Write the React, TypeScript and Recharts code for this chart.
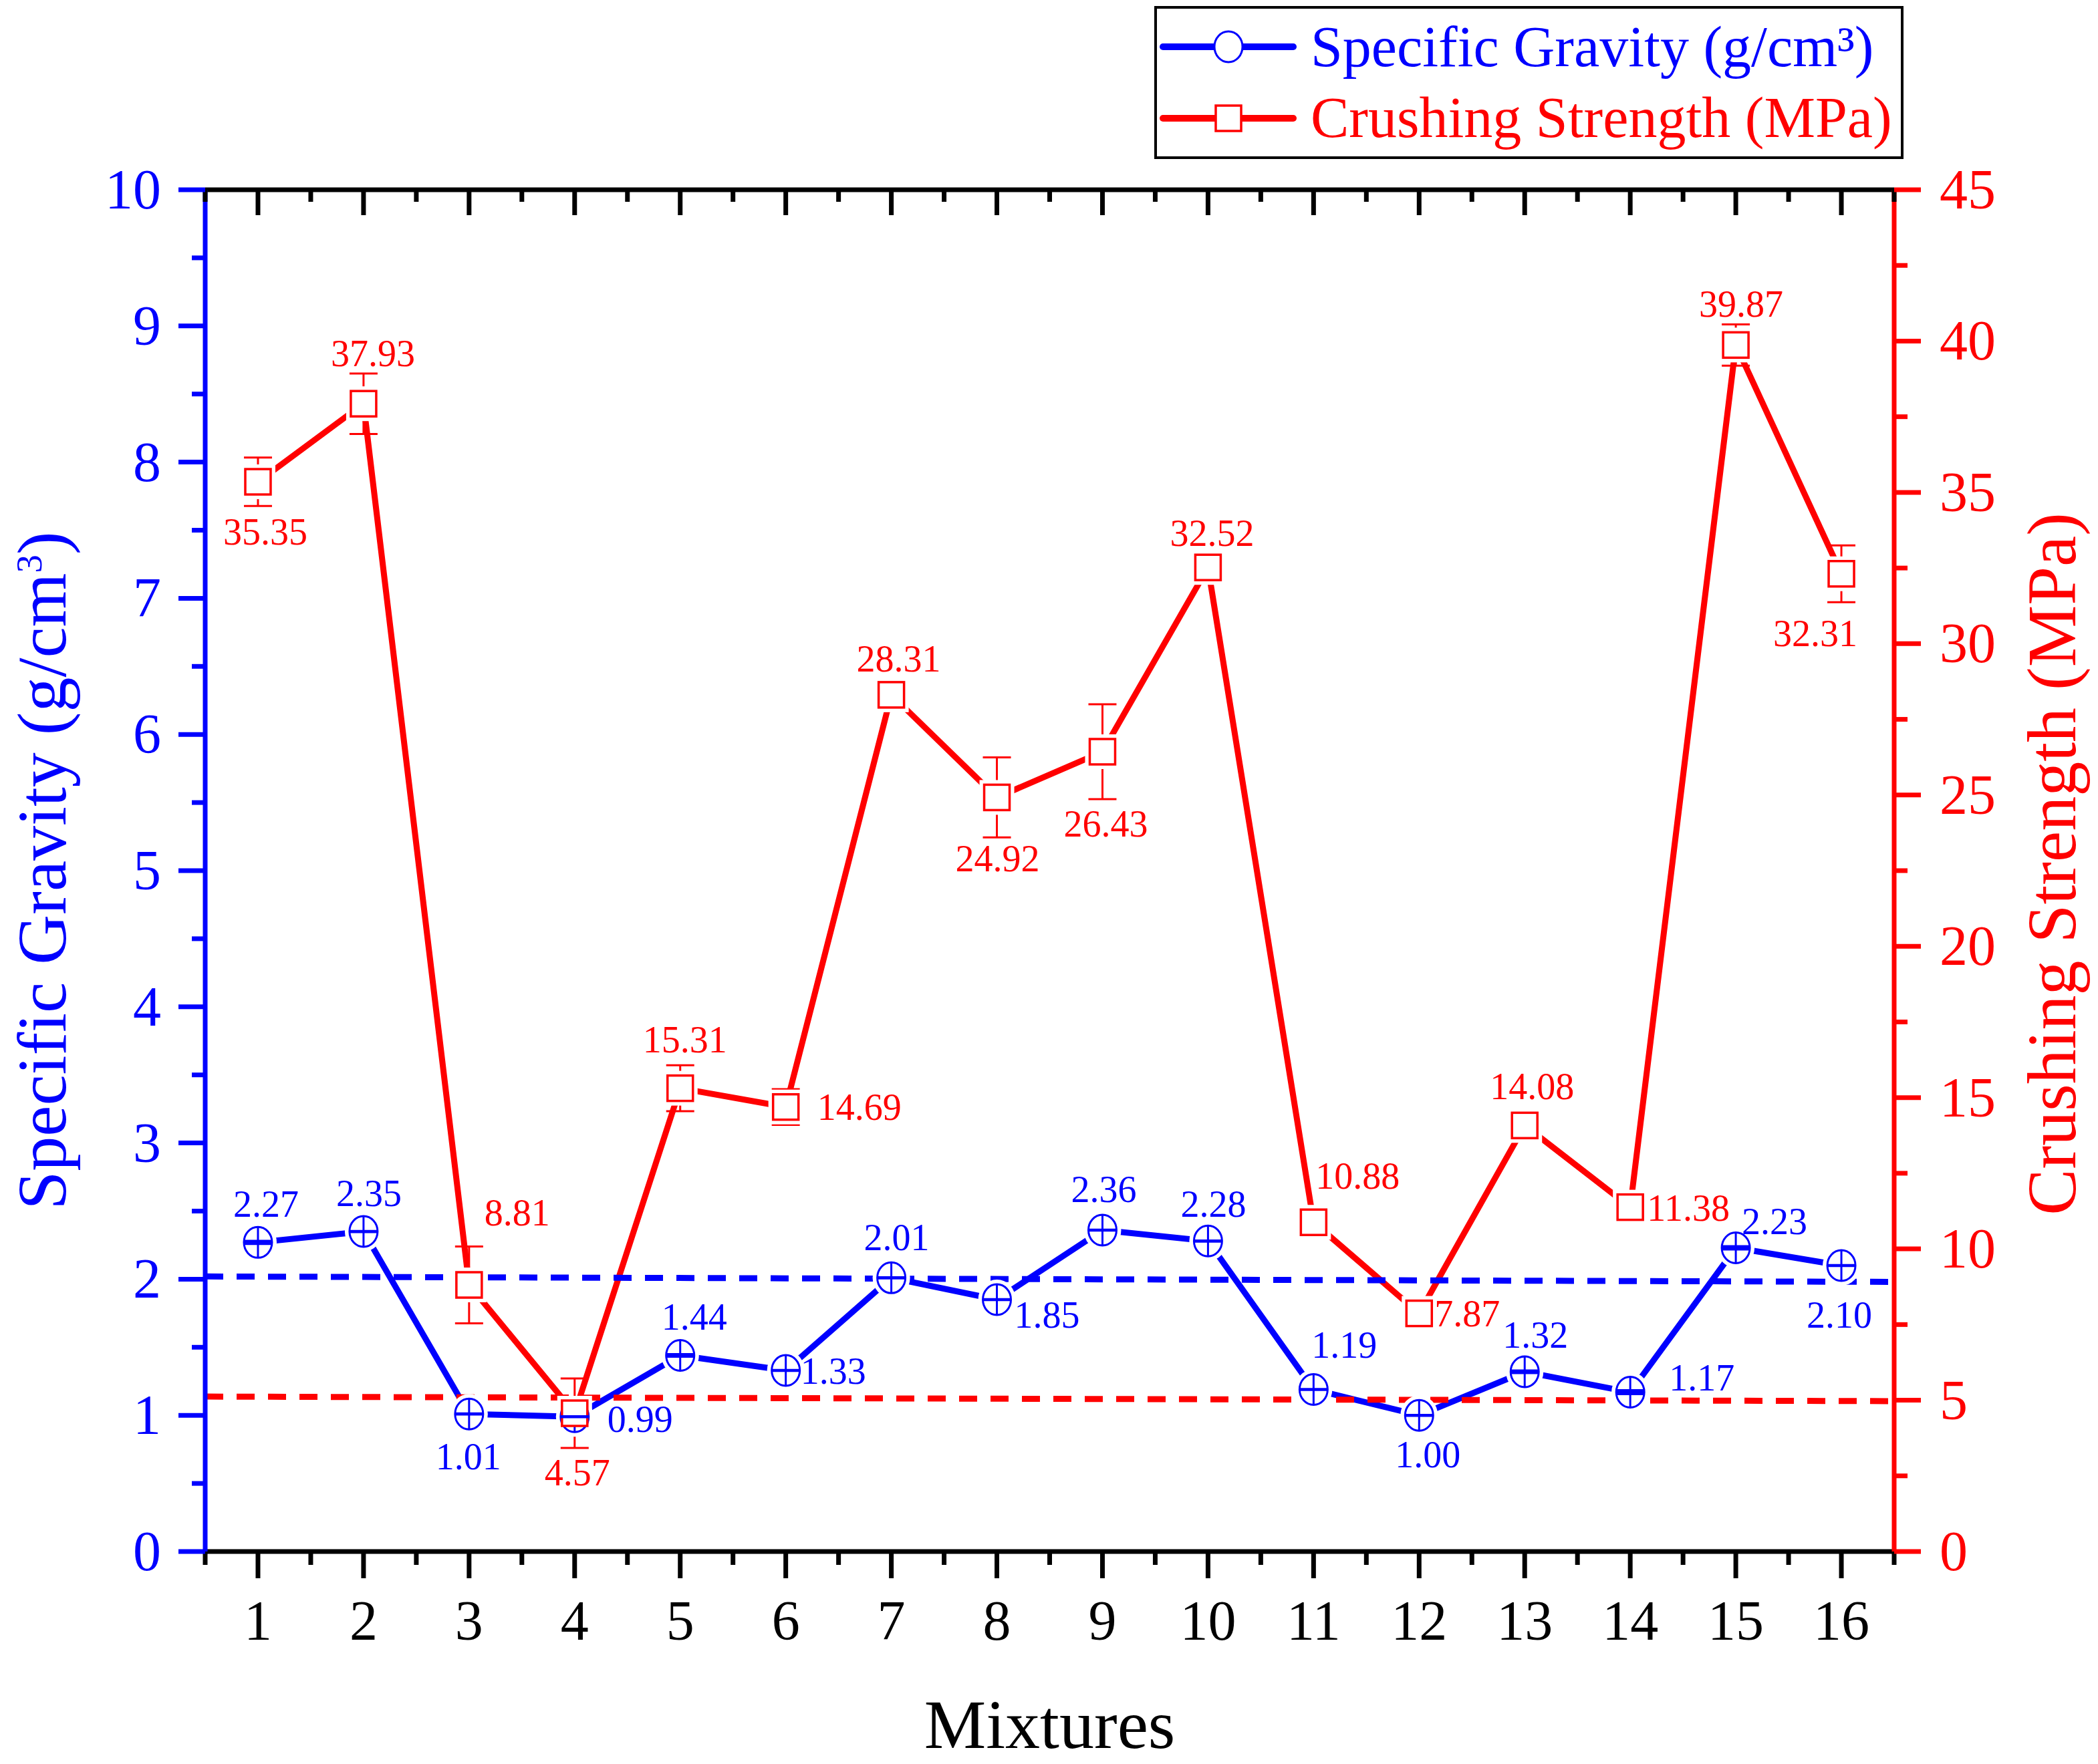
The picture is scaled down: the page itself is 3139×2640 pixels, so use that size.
import React from 'react';
import { ComposedChart, Line, XAxis, YAxis, ErrorBar, Legend, Label } from 'recharts';

// values
const mixtures = [1, 2, 3, 4, 5, 6, 7, 8, 9, 10, 11, 12, 13, 14, 15, 16];
const specificGravity = [2.27, 2.35, 1.01, 0.99, 1.44, 1.33, 2.01, 1.85, 2.36, 2.28, 1.19, 1.0, 1.32, 1.17, 2.23, 2.1];
const specificGravityErr = [0.012, 0.004, 0.004, 0.004, 0.01, 0.004, 0.004, 0.004, 0.004, 0.004, 0.004, 0.004, 0.01, 0.015, 0.012, 0.004];
const crushingStrength = [35.35, 37.93, 8.81, 4.57, 15.31, 14.69, 28.31, 24.92, 26.43, 32.52, 10.88, 7.87, 14.08, 11.38, 39.87, 32.31];
const crushingStrengthErr = [0.8, 1.0, 1.27, 1.15, 0.76, 0.59, 0.2, 1.32, 1.57, 0.42, 0.41, 0.43, 0.14, 0.53, 0.68, 0.94];

// dashed limit lines (ends at the two plot edges)
const limitX = [0.5, 16.5];
const sgLimit = [2.02, 1.98];
const csLimit = [5.12, 4.97];

// axis ticks
const xMajor = [1, 2, 3, 4, 5, 6, 7, 8, 9, 10, 11, 12, 13, 14, 15, 16];
const sgMajor = [0, 1, 2, 3, 4, 5, 6, 7, 8, 9, 10];
const csMajor = [0, 5, 10, 15, 20, 25, 30, 35, 40, 45];

// where each value label sits relative to its point (text centre, px)
const sgLabelOffset = [
  [12, -57], [8, -57], [-1, 64], [98, 4], [21, -58], [71, 1], [8, -60], [75, 23],
  [2, -61], [8, -55], [46, -66], [13, 59], [16, -55], [107, -22], [58, -40], [-3, 74],
];
const csLabelOffset = [
  [11, 75], [14, -75], [72, -108], [4, 89], [7, -73], [110, 0], [11, -54], [1, 92],
  [5, 108], [6, -51], [66, -69], [72, 0], [11, -58], [87, 1], [8, -61], [-39, 89],
];

const BLUE = '#0000FF';
const RED = '#FF0000';
const FONT = '"Liberation Serif", "Times New Roman", serif';

const W = 3139;
const H = 2640;

const data = mixtures.map((m, i) => ({
  x: m,
  sg: specificGravity[i],
  sgErr: specificGravityErr[i],
  cs: crushingStrength[i],
  csErr: crushingStrengthErr[i],
}));
const sgLimitData = limitX.map((x, i) => ({ x, v: sgLimit[i] }));
const csLimitData = limitX.map((x, i) => ({ x, v: csLimit[i] }));

const withMinor = (major: number[], step: number) => {
  const out: number[] = [];
  major.forEach((v, i) => {
    out.push(v);
    if (i < major.length - 1) out.push(v + step);
  });
  return out;
};
const xTicks = [0.5, ...withMinor(xMajor, 0.5), 16.5];
const sgTicks = withMinor(sgMajor, 0.5);
const csTicks = withMinor(csMajor, 2.5);

const isMajor = (v: number, list: number[]) => list.includes(v);

const BottomTick = (props: any) => {
  const { x, y, payload } = props;
  const major = isMajor(payload.value, xMajor);
  return (
    <g>
      <line x1={x} y1={y} x2={x} y2={y + (major ? 40 : 20)} stroke="#000" strokeWidth={7} />
      {major && (
        <text x={x} y={y + 132} textAnchor="middle" fontSize={84} fontFamily={FONT} fill="#000">
          {payload.value}
        </text>
      )}
    </g>
  );
};

const TopTick = (props: any) => {
  const { x, y, payload } = props;
  const major = isMajor(payload.value, xMajor);
  return <line x1={x} y1={y} x2={x} y2={y + (major ? 38 : 18)} stroke="#000" strokeWidth={7} />;
};

const LeftTick = (props: any) => {
  const { x, y, payload } = props;
  const major = isMajor(payload.value, sgMajor);
  return (
    <g>
      <line x1={x} y1={y} x2={x - (major ? 40 : 20)} y2={y} stroke={BLUE} strokeWidth={7} />
      {major && (
        <text x={x - 66} y={y + 28} textAnchor="end" fontSize={84} fontFamily={FONT} fill={BLUE}>
          {payload.value}
        </text>
      )}
    </g>
  );
};

const RightTick = (props: any) => {
  const { x, y, payload } = props;
  const major = isMajor(payload.value, csMajor);
  return (
    <g>
      <line x1={x} y1={y} x2={x + (major ? 40 : 20)} y2={y} stroke={RED} strokeWidth={7} />
      {major && (
        <text x={x + 68} y={y + 28} textAnchor="start" fontSize={84} fontFamily={FONT} fill={RED}>
          {payload.value}
        </text>
      )}
    </g>
  );
};

// white patches that cut the connecting line short of each marker
const CircleHalo = (p: any) => <ellipse key={`ch${p.index}`} cx={p.cx} cy={p.cy} rx={28} ry={30} fill="#fff" />;
const SquareHalo = (p: any) => (
  <rect key={`sh${p.index}`} x={p.cx - 26} y={p.cy - 26} width={52} height={52} fill="#fff" />
);

const CircleMark = (p: any) => (
  <g key={`cm${p.index}`}>
    <ellipse cx={p.cx} cy={p.cy} rx={21} ry={23} fill="none" stroke={BLUE} strokeWidth={3} />
    <line x1={p.cx} y1={p.cy - 23} x2={p.cx} y2={p.cy + 23} stroke={BLUE} strokeWidth={3} />
    <line x1={p.cx - 21} y1={p.cy} x2={p.cx + 21} y2={p.cy} stroke={BLUE} strokeWidth={3} />
  </g>
);
const SquareMark = (p: any) => (
  <rect
    key={`sm${p.index}`}
    x={p.cx - 19}
    y={p.cy - 19}
    width={38}
    height={38}
    fill="#fff"
    stroke={RED}
    strokeWidth={3.5}
  />
);

const makeValueLabel = (offsets: number[][], color: string) => (props: any) => {
  const { index, value } = props;
  const x = typeof props.x === 'number' ? props.x : props.viewBox?.x;
  const y = typeof props.y === 'number' ? props.y : props.viewBox?.y;
  const [dx, dy] = offsets[index] || [0, -55];
  return (
    <text
      key={`lbl${index}`}
      x={x + dx}
      y={y + dy + 19}
      textAnchor="middle"
      fontSize={56}
      fontFamily={FONT}
      fill={color}
    >
      {Number(value).toFixed(2)}
    </text>
  );
};

// axis titles; the viewBox is the axis band
const XTitle = (props: any) => {
  const vb = props.viewBox;
  return (
    <text x={vb.x + vb.width / 2} y={vb.y + 294} textAnchor="middle" fontSize={104} fontFamily={FONT} fill="#000">
      Mixtures
    </text>
  );
};

const LeftTitle = (props: any) => {
  const vb = props.viewBox;
  const cy = vb.y + vb.height / 2;
  return (
    <text
      transform={`translate(${vb.x + vb.width - 209}, ${cy}) rotate(-90)`}
      textAnchor="middle"
      fontSize={104}
      fontFamily={FONT}
      fill={BLUE}
    >
      <tspan>Specific Gravity (g/cm</tspan>
      <tspan dy={-36} fontSize={55}>3</tspan>
      <tspan dy={36}>)</tspan>
    </text>
  );
};

const RightTitle = (props: any) => {
  const vb = props.viewBox;
  const cy = vb.y + vb.height / 2 - 10;
  return (
    <text
      transform={`translate(${vb.x + 271}, ${cy}) rotate(-90)`}
      textAnchor="middle"
      fontSize={104}
      fontFamily={FONT}
      fill={RED}
    >
      Crushing Strength (MPa)
    </text>
  );
};

const LegendBox = () => (
  <svg width={1121} height={229} style={{ display: 'block' }}>
    <rect x={2} y={2} width={1117} height={225} fill="#fff" stroke="#000" strokeWidth={4} />
    <line x1={13} y1={61} x2={208} y2={61} stroke={BLUE} strokeWidth={10} strokeLinecap="round" />
    <ellipse cx={111} cy={61} rx={21} ry={23} fill="#fff" stroke={BLUE} strokeWidth={3} />
    <text x={234} y={90} fontSize={86} fontFamily={FONT} fill={BLUE}>
      Specific Gravity (g/cm³)
    </text>
    <line x1={13} y1={168} x2={208} y2={168} stroke={RED} strokeWidth={10} strokeLinecap="round" />
    <rect x={92} y={149} width={38} height={38} fill="#fff" stroke={RED} strokeWidth={3.5} />
    <text x={234} y={196} fontSize={86} fontFamily={FONT} fill={RED}>
      Crushing Strength (MPa)
    </text>
  </svg>
);

export default function App() {
  return (
    <div style={{ position: 'absolute', left: 0, top: 0, width: W, height: H, background: '#fff' }}>
      <ComposedChart
        width={W}
        height={H}
        data={data}
        margin={{ top: 234, right: 5, bottom: 18, left: 7 }}
      >
        <XAxis
          xAxisId="b"
          dataKey="x"
          type="number"
          domain={[0.5, 16.5]}
          ticks={xTicks}
          interval={0}
          height={300}
          tickSize={0}
          tickMargin={0}
          tickLine={false}
          tick={<BottomTick />}
          axisLine={{ stroke: '#000', strokeWidth: 7 }}
          allowDataOverflow
        >
          <Label content={<XTitle />} />
        </XAxis>
        <XAxis
          xAxisId="t"
          orientation="top"
          dataKey="x"
          type="number"
          domain={[0.5, 16.5]}
          ticks={xTicks}
          interval={0}
          height={50}
          tickSize={0}
          tickMargin={0}
          tickLine={false}
          tick={<TopTick />}
          axisLine={{ stroke: '#000', strokeWidth: 7 }}
          allowDataOverflow
        />
        <YAxis
          yAxisId="sg"
          orientation="left"
          type="number"
          domain={[0, 10]}
          ticks={sgTicks}
          interval={0}
          width={300}
          tickSize={0}
          tickMargin={0}
          tickLine={false}
          tick={<LeftTick />}
          axisLine={{ stroke: BLUE, strokeWidth: 7 }}
          allowDataOverflow
        >
          <Label content={<LeftTitle />} />
        </YAxis>
        <YAxis
          yAxisId="cs"
          orientation="right"
          type="number"
          domain={[0, 45]}
          ticks={csTicks}
          interval={0}
          width={300}
          tickSize={0}
          tickMargin={0}
          tickLine={false}
          tick={<RightTick />}
          axisLine={{ stroke: RED, strokeWidth: 7 }}
          allowDataOverflow
        >
          <Label content={<RightTitle />} />
        </YAxis>

        <Legend
          layout="horizontal"
          verticalAlign="middle"
          align="center"
          content={() => <LegendBox />}
          wrapperStyle={{ position: 'absolute', left: 1727, top: 9, width: 1121, height: 229 }}
        />

        {/* connecting lines, cut short around markers */}
        <Line
          xAxisId="b"
          yAxisId="cs"
          dataKey="cs"
          stroke={RED}
          strokeWidth={9}
          strokeLinecap="round"
          strokeLinejoin="round"
          dot={SquareHalo}
          activeDot={false}
          isAnimationActive={false}
        />
        <Line
          xAxisId="b"
          yAxisId="sg"
          dataKey="sg"
          stroke={BLUE}
          strokeWidth={9}
          strokeLinecap="round"
          strokeLinejoin="round"
          dot={CircleHalo}
          activeDot={false}
          isAnimationActive={false}
        />

        {/* markers with error bars and values */}
        <Line
          xAxisId="b"
          yAxisId="sg"
          dataKey="sg"
          stroke="none"
          dot={CircleMark}
          activeDot={false}
          isAnimationActive={false}
          label={makeValueLabel(sgLabelOffset, BLUE)}
        >
          <ErrorBar
            dataKey="sgErr"
            direction="y"
            width={21}
            stroke={BLUE}
            strokeWidth={3}
            isAnimationActive={false}
            zIndex={700}
          />
        </Line>
        <Line
          xAxisId="b"
          yAxisId="cs"
          dataKey="cs"
          stroke="none"
          dot={SquareMark}
          activeDot={false}
          isAnimationActive={false}
          label={makeValueLabel(csLabelOffset, RED)}
        >
          <ErrorBar dataKey="csErr" direction="y" width={21} stroke={RED} strokeWidth={3} isAnimationActive={false} />
        </Line>

        {/* dashed limit lines */}
        <Line
          xAxisId="b"
          yAxisId="sg"
          data={sgLimitData}
          dataKey="v"
          stroke={BLUE}
          strokeWidth={9}
          strokeDasharray="27 20"
          dot={false}
          activeDot={false}
          isAnimationActive={false}
        />
        <Line
          xAxisId="b"
          yAxisId="cs"
          data={csLimitData}
          dataKey="v"
          stroke={RED}
          strokeWidth={9}
          strokeDasharray="27 20"
          dot={false}
          activeDot={false}
          isAnimationActive={false}
        />
      </ComposedChart>
    </div>
  );
}
